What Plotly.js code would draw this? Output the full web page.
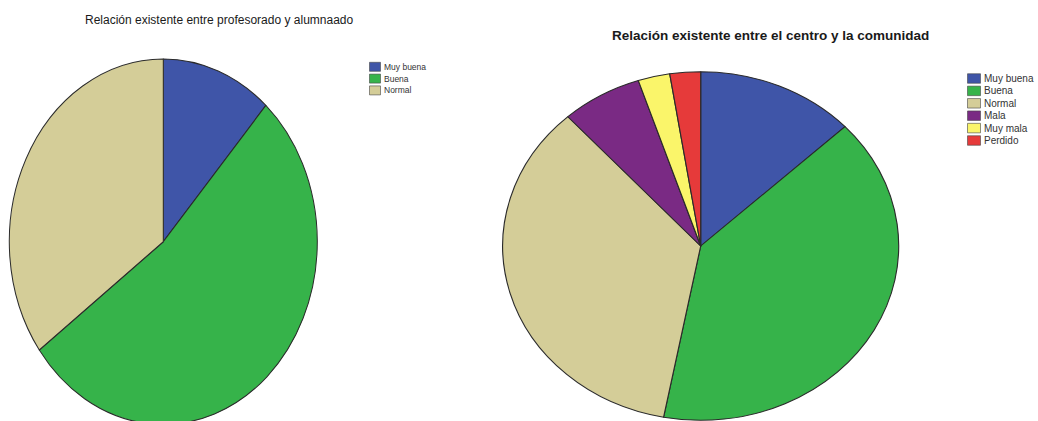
<!DOCTYPE html>
<html>
<head>
<meta charset="utf-8">
<script src="https://cdn.plot.ly/plotly-3.0.1.min.js"></script>
<style>
html,body{margin:0;padding:0;background:#fff;overflow:hidden;}
#chart{width:1038px;height:600px;}
</style>
</head>
<body>
<div id="chart"></div>
<script>
// Left chart: Relación existente entre profesorado y alumnaado (%)
const labelsProf = ["Muy buena", "Buena", "Normal"];
const valuesProf = [11.6, 53.3, 35.1];
const colorsProf = ["#3f55a8", "#36b34a", "#d4cd98"];

// Right chart: Relación existente entre el centro y la comunidad (%)
const labelsCom = ["Muy buena", "Buena", "Normal", "Mala", "Muy mala", "Perdido"];
const valuesCom = [13.0, 40.0, 35.3, 6.6, 2.6, 2.5];
const colorsCom = ["#3f55a8", "#36b34a", "#d4cd98", "#7a2a84", "#faf56a", "#e63a3a"];

const titleProf = "Relación existente entre profesorado y alumnaado";
const titleCom = "Relación existente entre el centro y la comunidad";

const W = 1038, H = 600;
const FONT = "Liberation Sans, Arial, sans-serif";
const px = function (x) { return x / W; };
const py = function (y) { return (H - y) / H; };

function dom(cx, cyTop, r) {
  return {x: [px(cx - r), px(cx + r)], y: [py(cyTop + r), py(cyTop - r)]};
}

const traces = [
  {
    type: "pie", labels: labelsProf, values: valuesProf,
    sort: false, direction: "clockwise", rotation: 0,
    textinfo: "none", hoverinfo: "label+percent",
    marker: {colors: colorsProf, line: {color: "#2a2a2a", width: 1}},
    domain: dom(163.3, 241.7, 154), showlegend: false
  },
  {
    type: "pie", labels: labelsCom, values: valuesCom,
    sort: false, direction: "clockwise", rotation: 0,
    textinfo: "none", hoverinfo: "label+percent",
    marker: {colors: colorsCom, line: {color: "#2a2a2a", width: 1}},
    domain: dom(700.7, 246, 174.3), showlegend: false
  }
];

const shapes = [];
const annotations = [
  {text: titleProf, xref: "paper", yref: "paper", x: px(219), y: py(20),
   xanchor: "center", yanchor: "middle", showarrow: false,
   font: {size: 12, family: FONT, color: "#1a1a1a"}},
  {text: "<b>" + titleCom + "</b>", xref: "paper", yref: "paper", x: px(770), y: py(35),
   xanchor: "center", yanchor: "middle", showarrow: false,
   font: {size: 13.5, family: FONT, color: "#1a1a1a"}}
];

// Legends built from the category arrays
function addLegend(labels, colors, x0, y0, step, sw, sh, fontSize) {
  labels.forEach(function (lab, i) {
    const yc = y0 + i * step;
    shapes.push({
      type: "rect", xref: "paper", yref: "paper",
      x0: px(x0), x1: px(x0 + sw), y0: py(yc + sh / 2), y1: py(yc - sh / 2),
      fillcolor: colors[i], line: {color: "#444", width: 0.6}
    });
    annotations.push({
      text: lab, xref: "paper", yref: "paper", x: px(x0 + sw + 1.5), y: py(yc),
      xanchor: "left", yanchor: "middle", showarrow: false,
      font: {size: fontSize, family: FONT, color: "#333"}
    });
  });
}
addLegend(labelsProf, colorsProf, 369.5, 66.8, 11.8, 11, 9, 8.5);
addLegend(labelsCom, colorsCom, 967.5, 78.5, 12.4, 13, 9.5, 10);

const layout = {
  width: W, height: H,
  margin: {l: 0, r: 0, t: 0, b: 0},
  paper_bgcolor: "#ffffff", plot_bgcolor: "#ffffff",
  font: {family: FONT, color: "#222"},
  showlegend: false,
  shapes: shapes,
  annotations: annotations
};

Plotly.newPlot("chart", traces, layout, {displayModeBar: false, staticPlot: true}).then(function () {
  // Reference pies are slightly elliptical: stretch each pie about its center
  const stretch = [
    {cx: 163.3, cy: 241.7, sx: 1, sy: 182.7 / 154},
    {cx: 700.7, cy: 246, sx: 198 / 174.3, sy: 1}
  ];
  const groups = document.querySelectorAll(".pielayer .trace");
  groups.forEach(function (g, i) {
    const s = stretch[i];
    if (!s) return;
    g.setAttribute("transform",
      "translate(" + s.cx + "," + s.cy + ") scale(" + s.sx + "," + s.sy + ") translate(" + (-s.cx) + "," + (-s.cy) + ")");
  });
});
</script>
</body>
</html>
